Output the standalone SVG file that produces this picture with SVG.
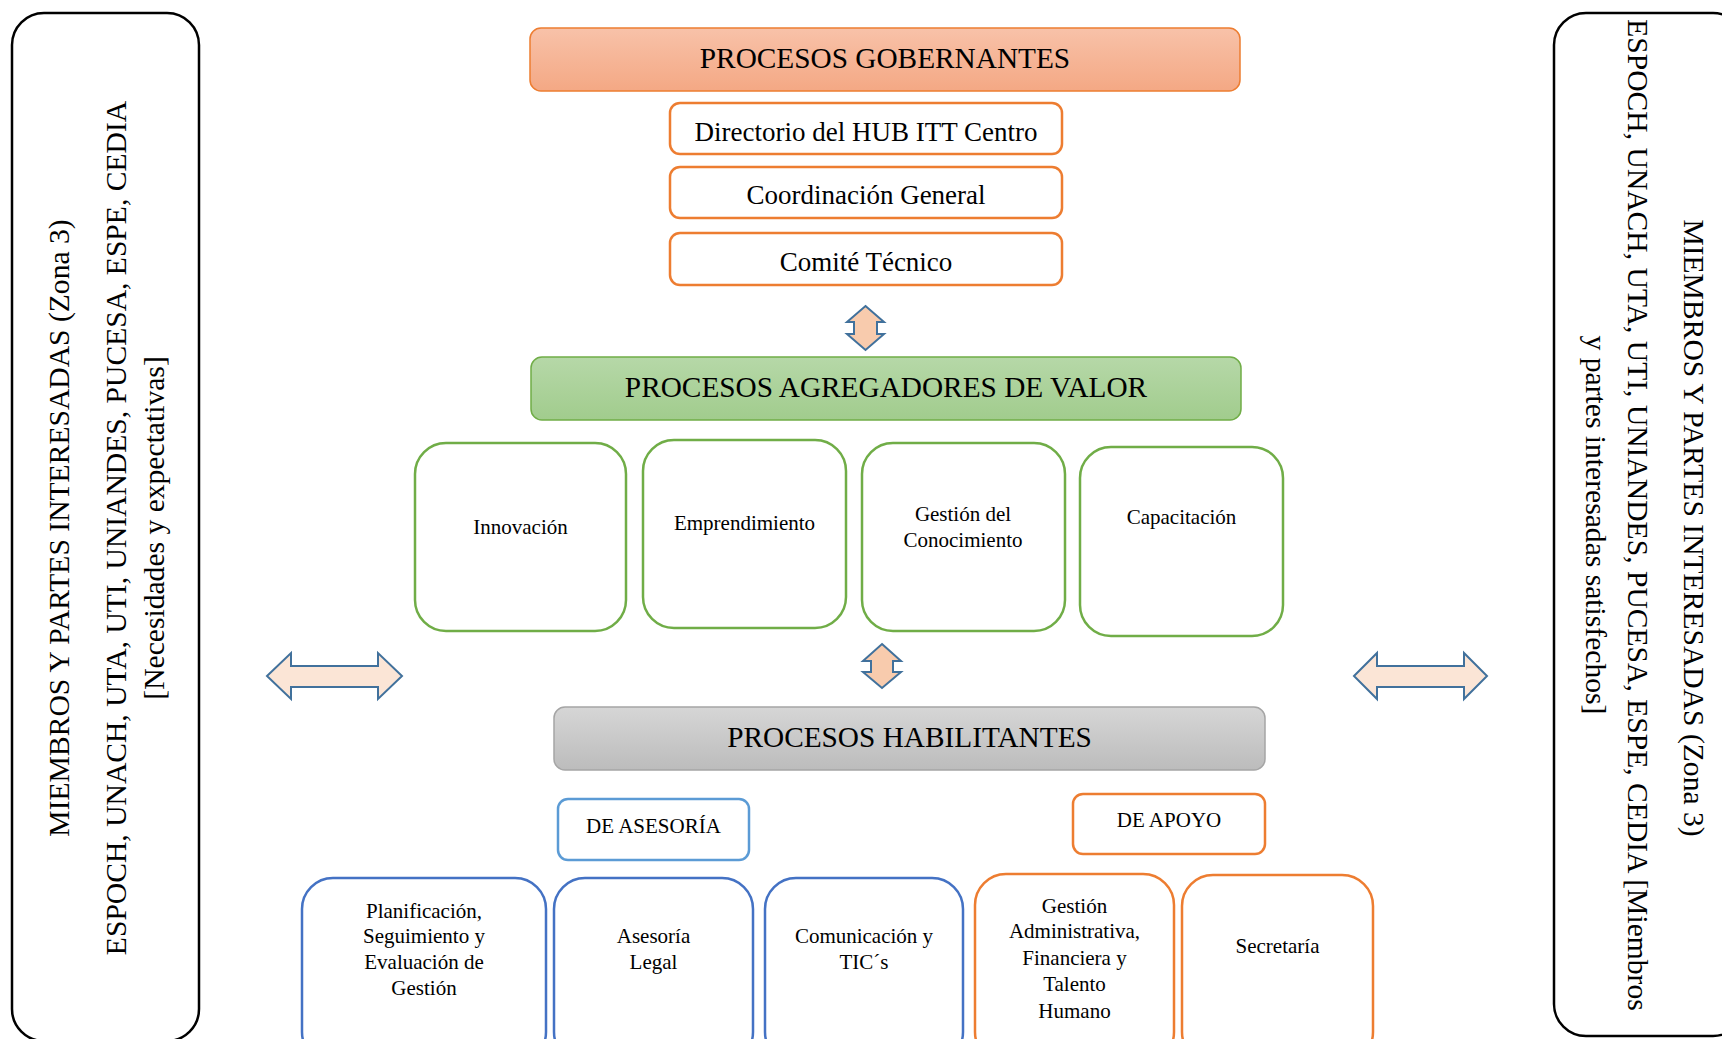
<svg xmlns="http://www.w3.org/2000/svg" width="1722" height="1039" viewBox="0 0 1722 1039">
<defs>
<linearGradient id="gOrange" x1="0" y1="0" x2="0" y2="1"><stop offset="0" stop-color="#F8C2A9"/><stop offset="1" stop-color="#F4A884"/></linearGradient>
<linearGradient id="gGreen" x1="0" y1="0" x2="0" y2="1"><stop offset="0" stop-color="#B6D8A8"/><stop offset="1" stop-color="#A1CC8D"/></linearGradient>
<linearGradient id="gGray" x1="0" y1="0" x2="0" y2="1"><stop offset="0" stop-color="#D6D6D6"/><stop offset="1" stop-color="#BCBCBC"/></linearGradient>
<style>
text{font-family:"Liberation Serif","Times New Roman",serif;fill:#000;text-anchor:middle}
.side{fill:#fff;stroke:#000;stroke-width:2.5}
.hdr{stroke-width:1.5}
.og{fill:#fff;stroke:#ED7D31;stroke-width:2.5}
.gr{fill:#fff;stroke:#70AD47;stroke-width:2.5}
.bl{fill:#fff;stroke:#4472C4;stroke-width:2.5}
.lb{fill:#fff;stroke:#5B9BD5;stroke-width:2.5}
.ts{font-size:29.6px}
.t29{font-size:29.3px}
.t27{font-size:27px}
.t21{font-size:21px}
.lr{fill:#FBE5D6;stroke:#41719C;stroke-width:2}
.ud{fill:#F8CBAD;stroke:#41719C;stroke-width:2}
</style>
</defs>
<rect width="1722" height="1039" fill="#fff"/>

<g id="left-stakeholders">
<rect class="side" x="12" y="13" width="187" height="1028" rx="32"/>
<text class="ts" transform="translate(69,528) rotate(-90)">MIEMBROS Y PARTES INTERESADAS (Zona 3)</text>
<text class="ts" transform="translate(126,528) rotate(-90)">ESPOCH, UNACH, UTA, UTI, UNIANDES, PUCESA, ESPE, CEDIA</text>
<text class="ts" transform="translate(164,528) rotate(-90)">[Necesidades y expectativas]</text>
</g>

<g id="right-stakeholders">
<rect class="side" x="1554" y="13" width="191" height="1023" rx="32"/>
<text class="ts" transform="translate(1684,528) rotate(90)">MIEMBROS Y PARTES INTERESADAS (Zona 3)</text>
<text class="ts" transform="translate(1628,515) rotate(90)">ESPOCH, UNACH, UTA, UTI, UNIANDES, PUCESA, ESPE, CEDIA [Miembros</text>
<text class="ts" transform="translate(1586,525) rotate(90)">y partes interesadas satisfechos]</text>
</g>

<g id="procesos-gobernantes">
<rect class="hdr" x="530" y="28" width="710" height="63" rx="11" fill="url(#gOrange)" stroke="#ED7D31"/>
<text class="t29" x="885" y="68">PROCESOS GOBERNANTES</text>
</g>
<g id="directorio">
<rect class="og" x="670" y="103" width="392" height="51" rx="10"/>
<text class="t27" x="866" y="141">Directorio del HUB ITT Centro</text>
</g>
<g id="coordinacion">
<rect class="og" x="670" y="167" width="392" height="51" rx="10"/>
<text class="t27" x="866" y="204">Coordinación General</text>
</g>
<g id="comite">
<rect class="og" x="670" y="233" width="392" height="52" rx="10"/>
<text class="t27" x="866" y="271">Comité Técnico</text>
</g>

<g id="procesos-agregadores">
<rect class="hdr" x="531" y="357" width="710" height="63" rx="11" fill="url(#gGreen)" stroke="#70AD47"/>
<text class="t29" x="886" y="397">PROCESOS AGREGADORES DE VALOR</text>
</g>
<g id="innovacion">
<rect class="gr" x="415" y="443" width="211" height="188" rx="31"/>
<text class="t21" x="520.5" y="534">Innovación</text>
</g>
<g id="emprendimiento">
<rect class="gr" x="643" y="440" width="203" height="188" rx="31"/>
<text class="t21" x="744.5" y="530">Emprendimiento</text>
</g>
<g id="gestion-conocimiento">
<rect class="gr" x="862" y="443" width="203" height="188" rx="31"/>
<text class="t21" x="963" y="521">Gestión del</text>
<text class="t21" x="963" y="547">Conocimiento</text>
</g>
<g id="capacitacion">
<rect class="gr" x="1080" y="447" width="203" height="189" rx="31"/>
<text class="t21" x="1181.5" y="524">Capacitación</text>
</g>

<g id="procesos-habilitantes">
<rect class="hdr" x="554" y="707" width="711" height="63" rx="11" fill="url(#gGray)" stroke="#A5A5A5"/>
<text class="t29" x="909.5" y="747">PROCESOS HABILITANTES</text>
</g>
<g id="de-asesoria">
<rect class="lb" x="558" y="799" width="191" height="61" rx="10"/>
<text class="t21" x="653.5" y="833">DE ASESORÍA</text>
</g>
<g id="de-apoyo">
<rect class="og" x="1073" y="794" width="192" height="60" rx="10"/>
<text class="t21" x="1169" y="827">DE APOYO</text>
</g>
<g id="planificacion">
<rect class="bl" x="302" y="878" width="244" height="185" rx="31"/>
<text class="t21" x="424" y="918">Planificación,</text>
<text class="t21" x="424" y="943">Seguimiento y</text>
<text class="t21" x="424" y="969">Evaluación de</text>
<text class="t21" x="424" y="995">Gestión</text>
</g>
<g id="asesoria-legal">
<rect class="bl" x="554" y="878" width="199" height="185" rx="31"/>
<text class="t21" x="653.5" y="943">Asesoría</text>
<text class="t21" x="653.5" y="969">Legal</text>
</g>
<g id="comunicacion">
<rect class="bl" x="765" y="878" width="198" height="185" rx="31"/>
<text class="t21" x="864" y="943">Comunicación y</text>
<text class="t21" x="864" y="969">TIC´s</text>
</g>
<g id="gestion-administrativa">
<rect class="og" x="975" y="874" width="199" height="189" rx="31"/>
<text class="t21" x="1074.5" y="913">Gestión</text>
<text class="t21" x="1074.5" y="938">Administrativa,</text>
<text class="t21" x="1074.5" y="965">Financiera y</text>
<text class="t21" x="1074.5" y="991">Talento</text>
<text class="t21" x="1074.5" y="1018">Humano</text>
</g>
<g id="secretaria">
<rect class="og" x="1182" y="875" width="191" height="188" rx="31"/>
<text class="t21" x="1277.5" y="953">Secretaría</text>
</g>

<g id="connectors">
<polygon class="ud" points="865.5,306 884,322 877,322 877,334 884,334 865.5,350 847,334 854,334 854,322 847,322"/>
<polygon class="ud" points="882,644 901,661 893,661 893,672 901,672 882,688 863,672 871,672 871,661 863,661"/>
<polygon class="lr" points="267,676 291,653 291,666 378,666 378,653 402,676 378,699 378,687 291,687 291,699"/>
<polygon class="lr" points="1354,676 1377,653 1377,666 1464,666 1464,653 1487,676 1464,699 1464,687 1377,687 1377,699"/>
</g>
</svg>
